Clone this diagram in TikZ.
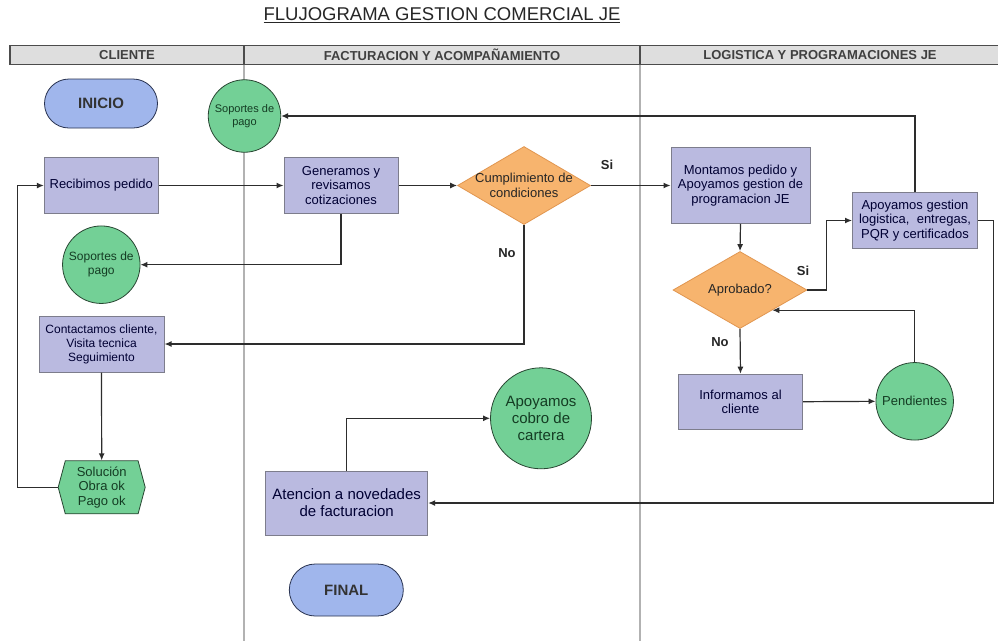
\documentclass[tikz,border=0pt]{standalone}
\usepackage{fontspec}
\setmainfont{Liberation Sans}
\usetikzlibrary{shapes.geometric,shapes.misc,shapes.symbols,arrows.meta,calc}
\definecolor{boxfill}{RGB}{186,186,224}
\definecolor{boxline}{RGB}{125,125,140}
\definecolor{grfill}{RGB}{115,208,150}
\definecolor{grline}{RGB}{40,70,50}
\definecolor{grtext}{RGB}{20,60,35}
\definecolor{orfill}{RGB}{247,180,110}
\definecolor{orline}{RGB}{225,150,80}
\definecolor{blfill}{RGB}{160,182,236}
\definecolor{blline}{RGB}{40,50,80}
\definecolor{hdfill}{RGB}{222,222,222}
\definecolor{lnc}{RGB}{45,45,45}
\begin{document}
\begin{tikzpicture}[x=1pt,y=-1pt,
  fs/.style 2 args={font=\fontsize{#1}{#2}\selectfont},
  proc/.style={rectangle,draw=boxline,line width=1pt,fill=boxfill,align=center,inner sep=1pt,text=black!80!blue},
  circ/.style={circle,draw=grline,line width=0.8pt,fill=grfill,align=center,inner sep=0pt,text=grtext},
  dec/.style={diamond,draw=orline,line width=0.8pt,fill=orfill,inner sep=0pt},
  term/.style={rounded rectangle,draw=blline,line width=0.8pt,fill=blfill,inner sep=0pt,font=\bfseries\fontsize{15}{17}\selectfont,text=black!80},
  conn/.style={draw=lnc,line width=1.2pt,-{Latex[length=7pt,width=6pt]}},
  lbl/.style={font=\bfseries\fontsize{13}{15}\selectfont,text=black!85},
  hdr/.style={font=\bfseries\fontsize{13}{15}\selectfont,text=black!75}
]
\useasboundingbox (0,0) rectangle (999,641);
\fill[white] (0,0) rectangle (999,641);
% title
\node[font=\fontsize{18.5}{20}\selectfont,text=black!85] (title) at (442,15) {\underline{FLUJOGRAMA GESTION COMERCIAL JE}};
% lanes
\draw[black!30,line width=1.5pt] (244,64) -- (244,641);
\draw[black!30,line width=1.5pt] (640,64) -- (640,641);
% header
\fill[hdfill] (10,45.7) rectangle (998,64.3);
\draw[black!70,line width=1.3pt] (998,45.7) -- (10,45.7) -- (10,64.3) -- (998,64.3);
\draw[black!70,line width=1.3pt] (244,45.7) -- (244,64.3);
\draw[black!70,line width=1.3pt] (640,45.7) -- (640,64.3);
\node[hdr] (h1) at (127,55) {CLIENTE};
\node[hdr] (h2) at (442,55) {FACTURACION Y ACOMPAÑAMIENTO};
\node[hdr] (h3) at (820,55) {LOGISTICA Y PROGRAMACIONES JE};
% nodes
\node[term,minimum width=113pt,minimum height=49pt] (ini) at (101,103.5) {INICIO};
\node[circ,minimum size=72.5pt,fs={11}{12.5}] (sop1) at (244.5,116) {Soportes de\\pago};
\node[proc,minimum width=114pt,minimum height=56pt,fs={13}{14.5}] (rec) at (101.3,185.5) {Recibimos pedido};
\node[proc,minimum width=114pt,minimum height=56pt,fs={13}{14.5}] (gen) at (341,185.5) {Generamos y\\revisamos\\cotizaciones};
\node[dec,minimum width=133pt,minimum height=78pt] (cum) at (524,185.5) {};
\node[fs={13}{14.5},align=center,text=black!85] (cumt) at (524,185.5) {Cumplimiento de\\condiciones};
\node[proc,minimum width=139pt,minimum height=75.6pt,fs={13}{14.5}] (mon) at (740.5,185.5) {Montamos pedido y\\Apoyamos gestion de\\programacion JE};
\node[proc,minimum width=125pt,minimum height=56pt,fs={13}{14.5}] (apl) at (915,220.5) {Apoyamos gestion\\logistica,\ \ entregas,\\PQR y certificados};
\node[circ,minimum size=77.5pt,fs={12}{14}] (sop2) at (101.3,264.7) {Soportes de\\pago};
\node[dec,minimum width=134pt,minimum height=77pt] (apr) at (740,290) {};
\node[fs={13}{14.5},text=black!85] (aprt) at (740,290) {Aprobado?};
\node[proc,minimum width=125pt,minimum height=56pt,fs={12}{14}] (con) at (101.5,344) {Contactamos cliente,\\Visita tecnica\\Seguimiento};
\node[proc,minimum width=124pt,minimum height=55pt,fs={13}{14.5}] (inf) at (740.5,401.7) {Informamos al\\cliente};
\node[circ,minimum size=77.5pt,fs={13}{14.5}] (pen) at (914.7,401.3) {Pendientes};
\node[circ,minimum size=101pt,fs={15}{17}] (cob) at (541,418.3) {Apoyamos\\cobro de\\cartera};
\node[signal,signal to=west and east,signal pointer angle=150,draw=grline,line width=0.8pt,fill=grfill,text=grtext,align=center,inner sep=0pt,minimum width=87pt,minimum height=53pt,fs={13}{14.5}] (sol) at (101.7,487.3) {Solución\\Obra ok\\Pago ok};
\node[proc,minimum width=162pt,minimum height=64pt,fs={15}{17}] (ate) at (346.7,503) {Atencion a novedades\\de facturacion};
\node[term,minimum width=114pt,minimum height=52pt] (fin) at (346.3,590) {FINAL};
% labels
\node[lbl] (si1) at (607,165) {Si};
\node[lbl] (no1) at (507,253) {No};
\node[lbl] (si2) at (803,271) {Si};
\node[lbl] (no2) at (720,342) {No};
% connectors
\coordinate (aprIn) at ($(apr.east)!0.52!(apr.south)$);
\draw[conn] (rec.east) -- (gen.west);
\draw[conn] (gen.east) -- (cum.west);
\draw[conn] (cum.east) -- (mon.west);
\draw[conn] (gen.south) |- (sop2);
\draw[conn] (cum.south) |- (con.east);
\draw[conn] (mon.south) -- (apr.north);
\draw[conn] (apr.east) -- ++(19,0) |- (apl.west);
\draw[conn] (apr.south) -- (inf.north);
\draw[conn] (inf.east) -- (pen.west);
\draw[conn] (pen.north) |- (aprIn);
\draw[conn] (apl.north) |- (sop1);
\draw[conn] (apl.east) -- ++(15.6,0) |- (ate.east);
\draw[conn] (ate.north) |- (cob);
\draw[conn] (con.south) -- (sol.north);
\draw[conn] (sol.west) -- ++(-40,0) |- (rec.west);
\end{tikzpicture}
\end{document}
